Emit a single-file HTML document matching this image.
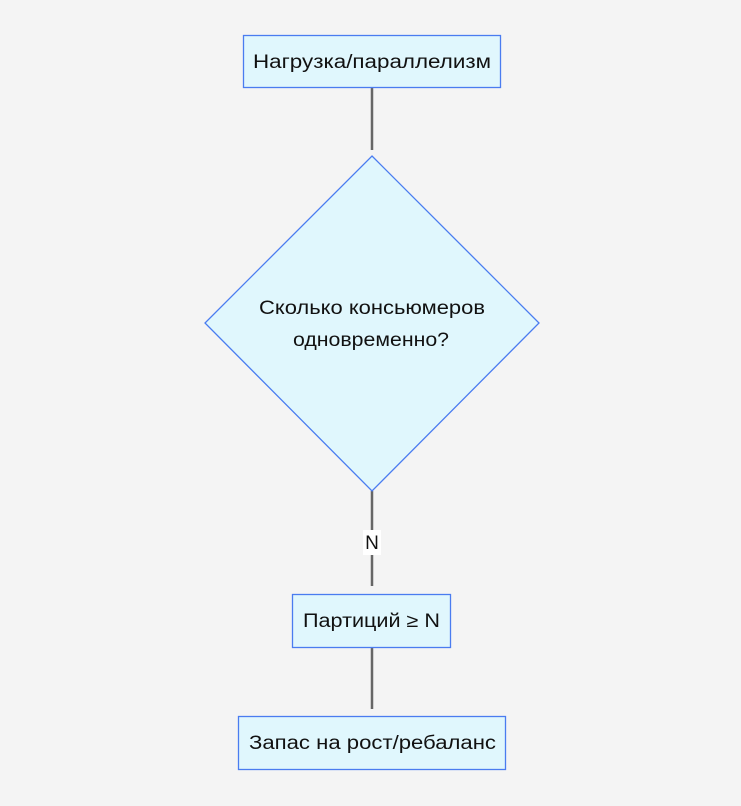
<!DOCTYPE html>
<html><head><meta charset="utf-8"><style>
body{margin:0;background:#f4f4f4;}
svg{display:block;font-family:"Liberation Sans","DejaVu Sans",sans-serif;}
</style></head><body>
<svg width="741" height="806" viewBox="0 0 741 806">
<rect width="741" height="806" fill="#f4f4f4"/>
<g stroke="#666" stroke-width="2.5">
<line x1="372" y1="88" x2="372" y2="150"/>
<line x1="372" y1="491" x2="372" y2="586"/>
<line x1="372" y1="647" x2="372" y2="709"/>
</g>
<rect x="363" y="530" width="18" height="25" fill="#fff"/>
<text x="372" y="549" font-size="19" text-anchor="middle" fill="#111">N</text>
<rect x="243.5" y="35.5" width="257" height="52" fill="#e0f7fd" stroke="#4a7cf0" stroke-width="1.3"/>
<text x="253" y="68" font-size="19" textLength="238" lengthAdjust="spacingAndGlyphs" fill="#111">Нагрузка/параллелизм</text>
<polygon points="372,156 539,323 372,491 205,323" fill="#e0f7fd" stroke="#4a7cf0" stroke-width="1.3"/>
<text x="259" y="314" font-size="19" textLength="226" lengthAdjust="spacingAndGlyphs" fill="#111">Сколько консьюмеров</text>
<text x="293" y="346" font-size="19" textLength="156" lengthAdjust="spacingAndGlyphs" fill="#111">одновременно?</text>
<rect x="292.5" y="594.5" width="158" height="53" fill="#e0f7fd" stroke="#4a7cf0" stroke-width="1.3"/>
<text x="303" y="627" font-size="19" textLength="137" lengthAdjust="spacingAndGlyphs" fill="#111">Партиций ≥ N</text>
<rect x="238.5" y="716.5" width="267" height="53" fill="#e0f7fd" stroke="#4a7cf0" stroke-width="1.3"/>
<text x="249" y="749" font-size="19" textLength="247" lengthAdjust="spacingAndGlyphs" fill="#111">Запас на рост/ребаланс</text>
</svg>
</body></html>
